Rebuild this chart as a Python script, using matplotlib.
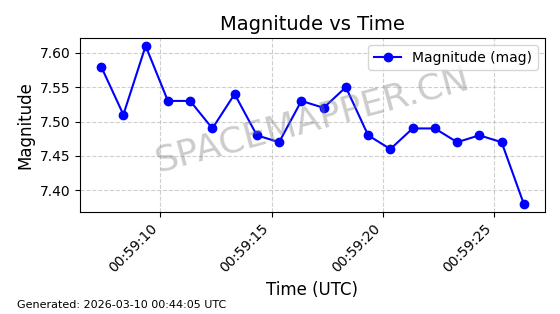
import matplotlib
matplotlib.use("Agg")
import matplotlib.pyplot as plt
import matplotlib.dates as mdates
from datetime import datetime, timedelta

start = datetime(2026, 3, 10, 0, 59, 7, 340000)
offsets_s = [0, 1, 2, 3, 4, 5, 6, 7, 8, 9, 10, 11, 12, 13, 14, 15, 16, 17, 18, 19]
magnitudes = [7.58, 7.51, 7.61, 7.53, 7.53, 7.49, 7.54, 7.48, 7.47, 7.53,
              7.52, 7.55, 7.48, 7.46, 7.49, 7.49, 7.47, 7.48, 7.47, 7.38]
times = [start + timedelta(seconds=s) for s in offsets_s]

fig = plt.figure(figsize=(5.6, 3.14), dpi=100)
ax = fig.add_axes([80/560, 1-212/314, 465/560, 174/314])
ax.plot(times, magnitudes, '-o', color='blue', markersize=6, linewidth=1.5, label='Magnitude (mag)')
ax.set_title('Magnitude vs Time', fontsize=14)
ax.set_xlabel('Time (UTC)', fontsize=12)
ax.set_ylabel('Magnitude', fontsize=12)
ax.grid(True, linestyle='--', alpha=0.6)
ax.xaxis.set_major_locator(mdates.SecondLocator(bysecond=range(0, 60, 5)))
ax.xaxis.set_major_formatter(mdates.DateFormatter('%H:%M:%S'))
plt.setp(ax.get_xticklabels(), rotation=45, ha='right')
ax.yaxis.set_major_formatter(matplotlib.ticker.FormatStrFormatter('%.2f'))
ax.legend(loc='upper right')
ax.text(0.5, 0.53, 'SPACEMAPPER.CN', transform=ax.transAxes, fontsize=26,
        color='gray', alpha=0.4, rotation=15, ha='center', va='center')
fig.text(0.03, 0.02, 'Generated: 2026-03-10 00:44:05 UTC', fontsize=8)
fig.savefig('out.png', dpi=100)
